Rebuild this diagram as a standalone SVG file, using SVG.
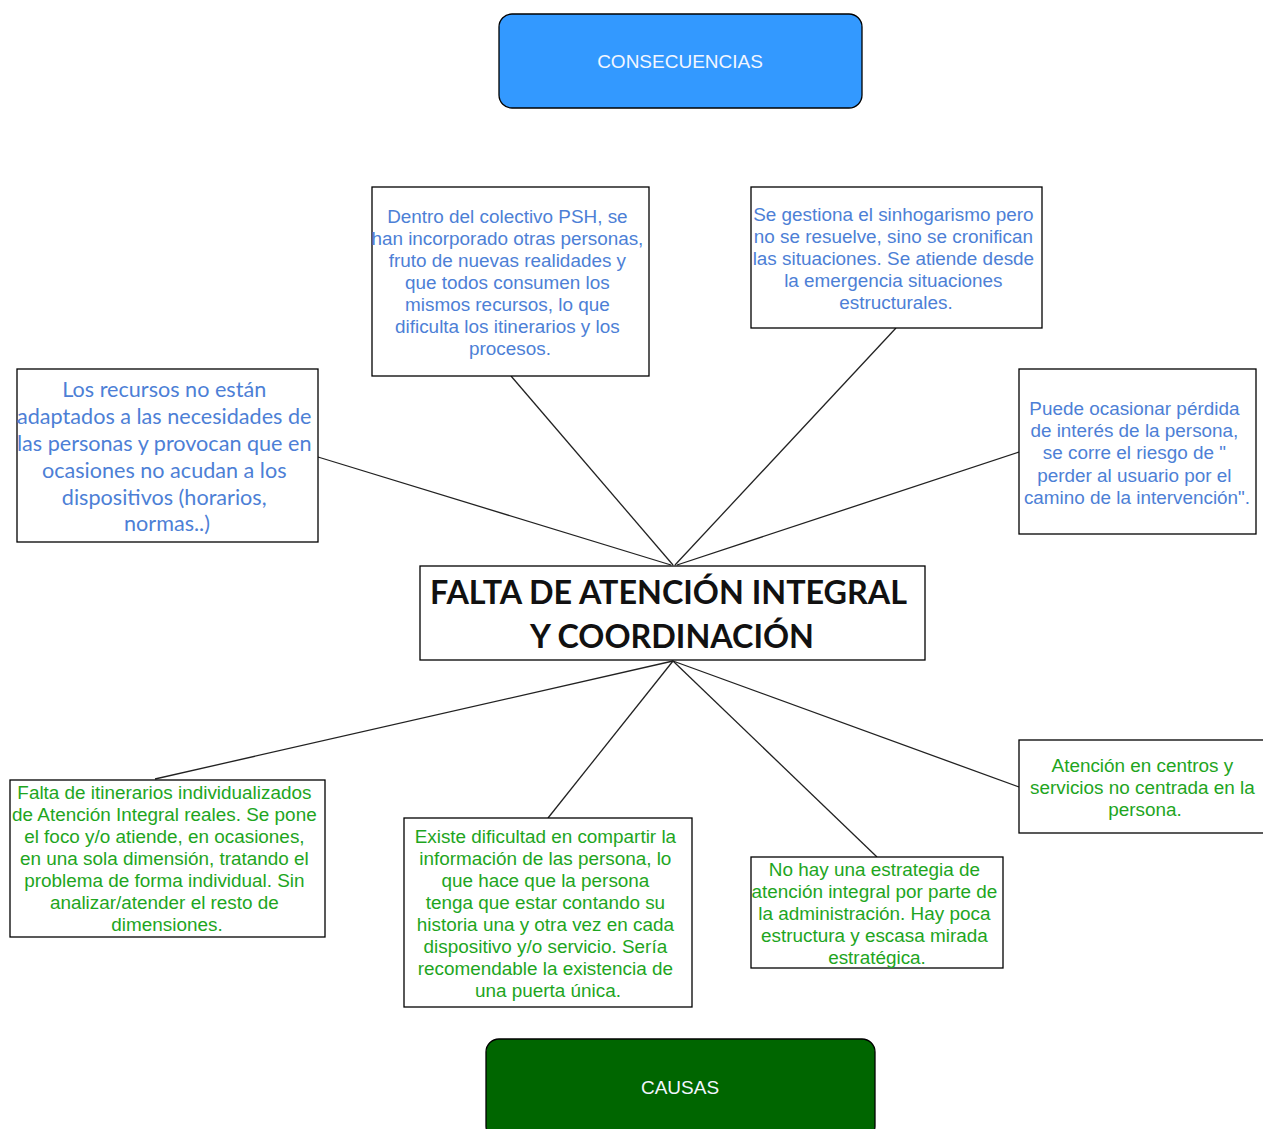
<svg xmlns="http://www.w3.org/2000/svg" width="1263" height="1129" viewBox="0 0 1263 1129">
  <style>
    .box { fill: #ffffff; stroke: #000000; stroke-width: 1.3; }
    .pill { stroke: #000000; stroke-width: 1.3; }
    .link { stroke: #222222; stroke-width: 1.3; fill: none; }
    .t { font-family: "Liberation Sans", Arial, sans-serif; font-size: 18.9px; text-anchor: middle; }
    .c { font-family: Lato, "Open Sans", sans-serif; font-size: 21.6px; text-anchor: middle; }
    .blue { fill: #4d7fd6; }
    .green { fill: #1ea51e; }
    .label { font-family: "Liberation Sans", Arial, sans-serif; font-size: 19px; text-anchor: middle; fill: #f2f6ff; }
    .title { font-family: Lato, "Open Sans", sans-serif; font-size: 32.3px; font-weight: bold; text-anchor: middle; fill: #111111; }
  </style>
  <rect width="1263" height="1129" fill="#ffffff"/>

  <g id="connectors">
    <line class="link" x1="511" y1="376" x2="673" y2="565"/>
    <line class="link" x1="896" y1="328" x2="675" y2="565"/>
    <line class="link" x1="318" y1="457" x2="671" y2="565"/>
    <line class="link" x1="1019" y1="452" x2="677" y2="565"/>
    <line class="link" x1="673" y1="661" x2="155" y2="779"/>
    <line class="link" x1="673" y1="661" x2="548" y2="818"/>
    <line class="link" x1="673" y1="661" x2="877" y2="857"/>
    <line class="link" x1="673" y1="661" x2="1019" y2="787"/>
  </g>

  <g id="consecuencias">
    <rect class="pill" x="499" y="14" width="363" height="94" rx="13" fill="#3399ff"/>
    <text class="label" x="680" y="68">CONSECUENCIAS</text>
  </g>

  <g id="cons-psh">
    <rect class="box" x="372" y="187" width="277" height="189"/>
    <text class="t blue">
      <tspan x="510" y="223">Dentro del colectivo PSH, se</tspan>
      <tspan x="510" y="245">han incorporado otras personas,</tspan>
      <tspan x="510" y="267">fruto de nuevas realidades y</tspan>
      <tspan x="510" y="289">que todos consumen los</tspan>
      <tspan x="510" y="311">mismos recursos, lo que</tspan>
      <tspan x="510" y="333">dificulta los itinerarios y los</tspan>
      <tspan x="510" y="355">procesos.</tspan>
    </text>
  </g>

  <g id="cons-sinhogarismo">
    <rect class="box" x="751" y="187" width="291" height="141"/>
    <text class="t blue">
      <tspan x="896" y="221">Se gestiona el sinhogarismo pero</tspan>
      <tspan x="896" y="243">no se resuelve, sino se cronifican</tspan>
      <tspan x="896" y="265">las situaciones. Se atiende desde</tspan>
      <tspan x="896" y="287">la emergencia situaciones</tspan>
      <tspan x="896" y="309">estructurales.</tspan>
    </text>
  </g>

  <g id="cons-recursos">
    <rect class="box" x="17" y="369" width="301" height="173"/>
    <text class="c blue">
      <tspan x="167" y="397">Los recursos no están</tspan>
      <tspan x="167" y="424">adaptados a las necesidades de</tspan>
      <tspan x="167" y="451">las personas y provocan que en</tspan>
      <tspan x="167" y="478">ocasiones no acudan a los</tspan>
      <tspan x="167" y="505">dispositivos (horarios,</tspan>
      <tspan x="167" y="531">normas..)</tspan>
    </text>
  </g>

  <g id="cons-interes">
    <rect class="box" x="1019" y="369" width="237" height="165"/>
    <text class="t blue">
      <tspan x="1137" y="415">Puede ocasionar pérdida</tspan>
      <tspan x="1137" y="437">de interés de la persona,</tspan>
      <tspan x="1137" y="459">se corre el riesgo de "</tspan>
      <tspan x="1137" y="482">perder al usuario por el</tspan>
      <tspan x="1137" y="504">camino de la intervención".</tspan>
    </text>
  </g>

  <g id="problema">
    <rect class="box" x="420" y="566" width="505" height="94"/>
    <text class="title">
      <tspan x="672" y="604">FALTA DE ATENCIÓN INTEGRAL</tspan>
      <tspan x="672" y="648">Y COORDINACIÓN</tspan>
    </text>
  </g>

  <g id="causa-itinerarios">
    <rect class="box" x="10" y="780" width="315" height="157"/>
    <text class="t green">
      <tspan x="167" y="799">Falta de itinerarios individualizados</tspan>
      <tspan x="167" y="821">de Atención Integral reales. Se pone</tspan>
      <tspan x="167" y="843">el foco  y/o atiende, en ocasiones,</tspan>
      <tspan x="167" y="865">en una sola dimensión, tratando el</tspan>
      <tspan x="167" y="887">problema de forma individual. Sin</tspan>
      <tspan x="167" y="909">analizar/atender el resto de</tspan>
      <tspan x="167" y="931">dimensiones.</tspan>
    </text>
  </g>

  <g id="causa-informacion">
    <rect class="box" x="404" y="818" width="288" height="189"/>
    <text class="t green">
      <tspan x="548" y="843">Existe dificultad en compartir la</tspan>
      <tspan x="548" y="865">información de las persona, lo</tspan>
      <tspan x="548" y="887">que hace que la persona</tspan>
      <tspan x="548" y="909">tenga que estar contando su</tspan>
      <tspan x="548" y="931">historia una y otra vez en cada</tspan>
      <tspan x="548" y="953">dispositivo y/o servicio. Sería</tspan>
      <tspan x="548" y="975">recomendable la existencia de</tspan>
      <tspan x="548" y="997">una puerta única.</tspan>
    </text>
  </g>

  <g id="causa-estrategia">
    <rect class="box" x="751" y="857" width="252" height="111"/>
    <text class="t green">
      <tspan x="877" y="876">No hay una estrategia de</tspan>
      <tspan x="877" y="898">atención integral por parte de</tspan>
      <tspan x="877" y="920">la administración. Hay poca</tspan>
      <tspan x="877" y="942">estructura y escasa mirada</tspan>
      <tspan x="877" y="964">estratégica.</tspan>
    </text>
  </g>

  <g id="causa-centros">
    <rect class="box" x="1019" y="740" width="250" height="93"/>
    <text class="t green">
      <tspan x="1145" y="772">Atención en centros y</tspan>
      <tspan x="1145" y="794">servicios no centrada en la</tspan>
      <tspan x="1145" y="816">persona.</tspan>
    </text>
  </g>

  <g id="causas">
    <rect class="pill" x="486" y="1039" width="389" height="100" rx="13" fill="#006600"/>
    <text class="label" x="680" y="1094">CAUSAS</text>
  </g>
</svg>
